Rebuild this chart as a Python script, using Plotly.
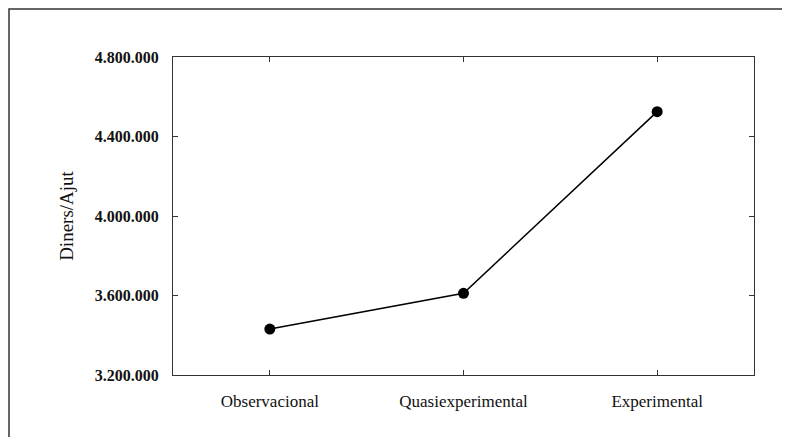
import plotly.graph_objects as go

categories = ["Observacional", "Quasiexperimental", "Experimental"]
values = [3431000, 3611000, 4525000]
y_ticks = [3200000, 3600000, 4000000, 4400000, 4800000]
y_ticklabels = ["3.200.000", "3.600.000", "4.000.000", "4.400.000", "4.800.000"]

# page body adds an 8px offset; compensate so the plot lands at x 173-754, y 57-375
OFF = 8
W, H = 790, 437
L, T = 173 - OFF, 57 - OFF
R, B = W - (754 - OFF), H - (375 - OFF)
pw, ph = W - L - R, H - T - B

fig = go.Figure()
fig.add_trace(go.Scatter(
    x=categories, y=values, mode="lines+markers",
    line=dict(color="black", width=1.5),
    marker=dict(color="black", size=11),
    showlegend=False, cliponaxis=False,
))

axis_common = dict(showline=True, linecolor="#333333", linewidth=1.2, mirror="ticks",
                   ticks="inside", ticklen=5, tickcolor="#333333", tickwidth=1,
                   showgrid=False, zeroline=False)

fig.update_layout(
    width=W, height=H,
    margin=dict(l=L, r=R, t=T, b=B, pad=0),
    paper_bgcolor="white", plot_bgcolor="white",
    font=dict(family="Liberation Serif", color="#111111"),
    xaxis=dict(**axis_common, type="category", range=[-0.5, 2.5],
               tickfont=dict(family="Liberation Serif", size=17), ticklabelstandoff=10),
    yaxis=dict(**axis_common, range=[3200000, 4800000], tickvals=y_ticks, ticktext=y_ticklabels,
               tickfont=dict(family="Liberation Serif", size=16, weight="bold"),
               ticklabelstandoff=10,
               title=dict(text="Diners/Ajut", font=dict(family="Liberation Serif", size=19), standoff=16)),
    shapes=[dict(type="rect", xref="paper", yref="paper",
                 x0=(1 - L) / pw, x1=1 + (R + 20) / pw,
                 y0=-(B + 20) / ph, y1=1 + (T - 1) / ph,
                 line=dict(color="#333333", width=1.5), layer="below")],
)

fig.write_html("out.html")
